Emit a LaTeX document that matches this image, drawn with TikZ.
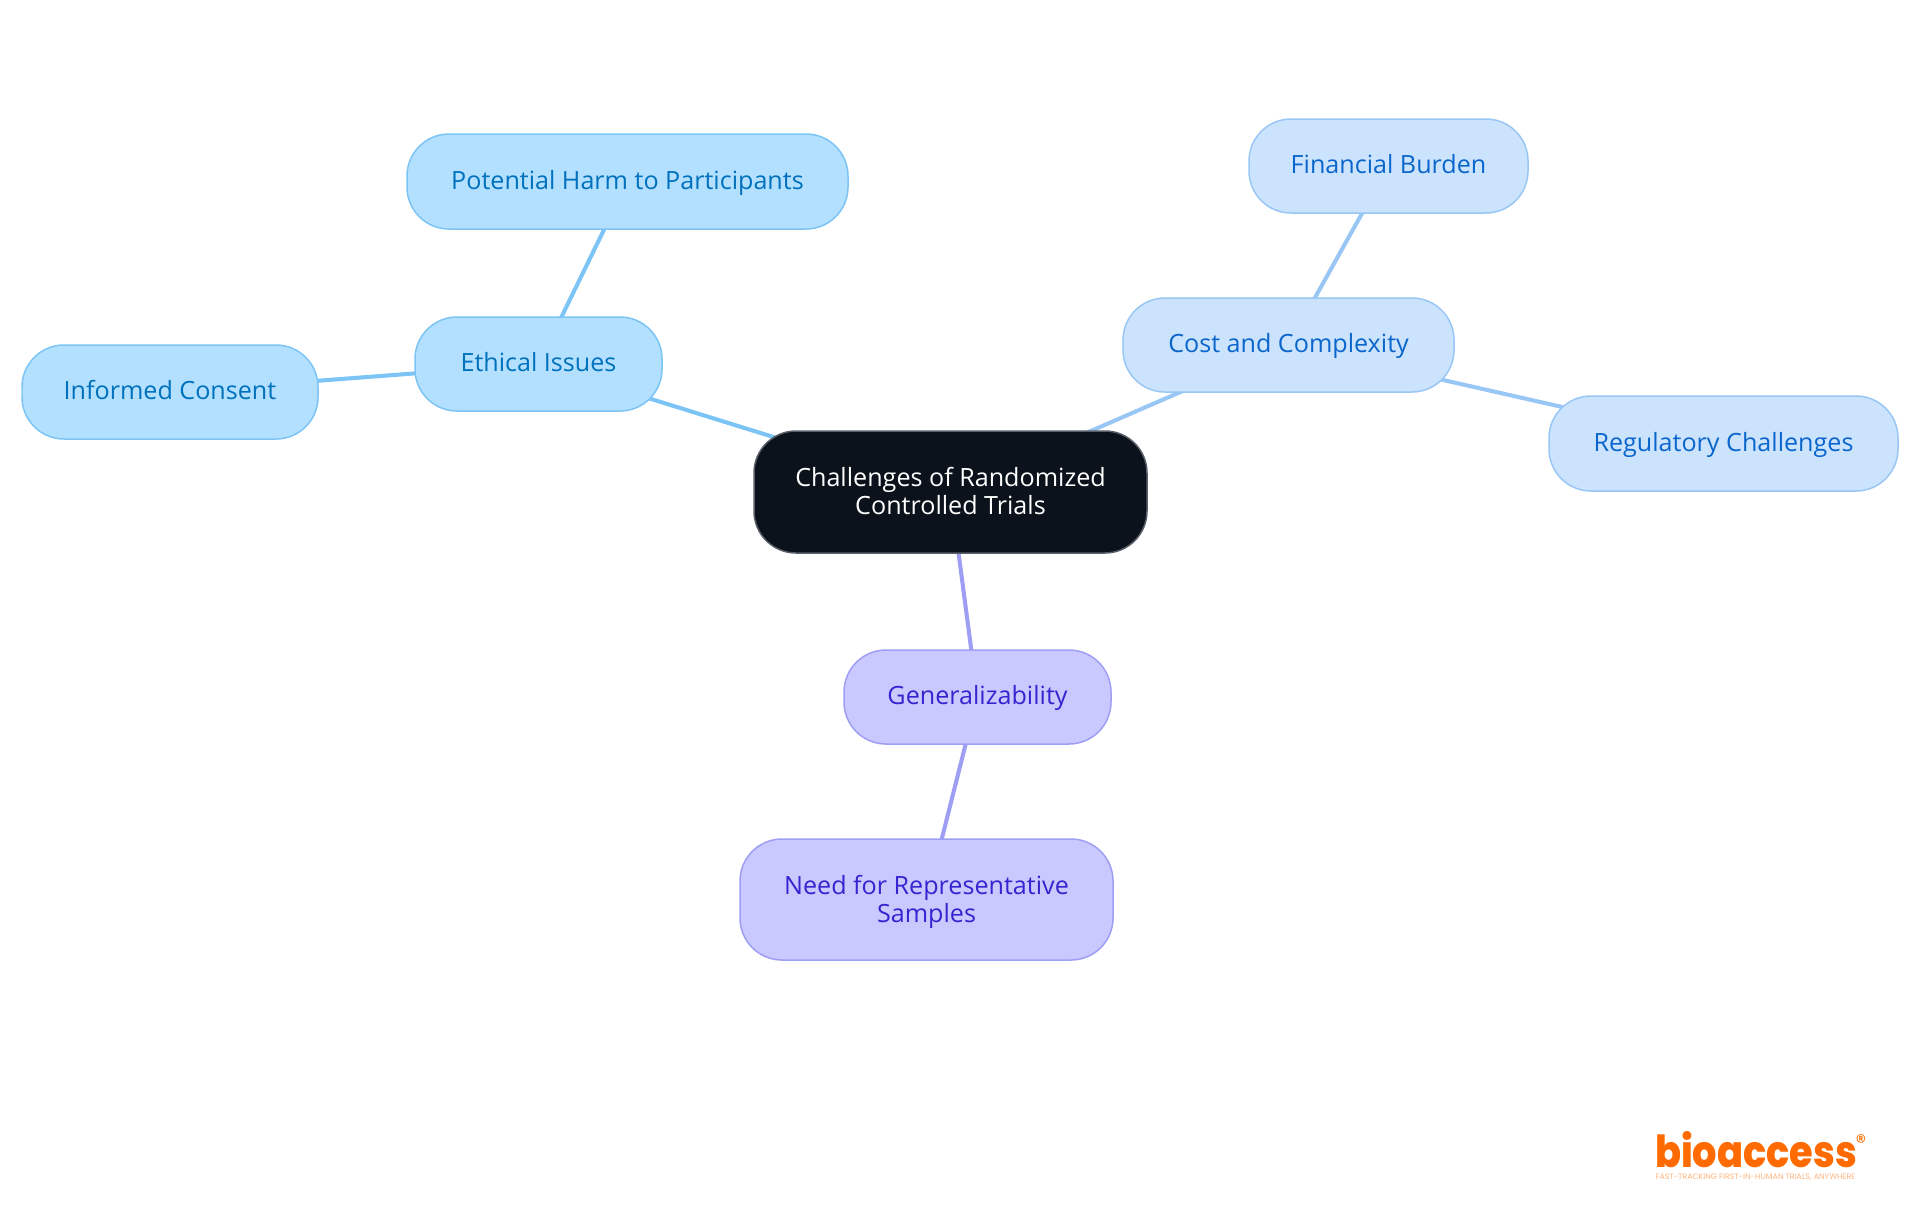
\documentclass[tikz,border=0pt]{standalone}
\usepackage{fontspec}
\setmainfont{Open Sans}
\newfontfamily\logofont[BoldFont={Poppins ExtraBold}]{Poppins}
\usetikzlibrary{backgrounds}

\definecolor{rootfill}{HTML}{0B121B}
\definecolor{rootline}{HTML}{5A6068}
\definecolor{ethicfill}{HTML}{B3E0FF}
\definecolor{ethicline}{HTML}{7CC4F5}
\definecolor{ethictext}{HTML}{0071BC}
\definecolor{costfill}{HTML}{CCE3FD}
\definecolor{costline}{HTML}{99C7F5}
\definecolor{costtext}{HTML}{0A66CC}
\definecolor{genfill}{HTML}{C9C9FF}
\definecolor{genline}{HTML}{9E9EF5}
\definecolor{gentext}{HTML}{3524D0}
\definecolor{logoorange}{HTML}{FF6B00}

\newcommand{\topicstrut}{\rule[-4pt]{0pt}{16.8pt}}
\newcommand{\twolinestrut}{\rule[-4pt]{0pt}{33.8pt}}

\tikzset{
  topic/.style={rounded corners=0.84cm, line width=0.85pt, align=center, inner sep=0pt,
    font=\fontsize{14.3}{16}\selectfont,
    execute at begin node=\topicstrut, execute at end node=\topicstrut},
  twoline/.style={execute at begin node=\twolinestrut},
  root/.style={topic, twoline, fill=rootfill, draw=rootline, text=white},
  ethic/.style={topic, fill=ethicfill, draw=ethicline, text=ethictext},
  cost/.style={topic, fill=costfill, draw=costline, text=costtext},
  gen/.style={topic, fill=genfill, draw=genline, text=gentext},
  link/.style={line width=2.3pt},
}

\begin{document}
\begin{tikzpicture}[x=0.02cm, y=-0.02cm]
    \useasboundingbox (0,0) rectangle (1920,1215);

    % Centre
    \node[root, minimum width=393*0.02cm, minimum height=122*0.02cm] (challenges) at (950.5,492) {Challenges of Randomized\\Controlled Trials};

    % Ethics branch
    \node[ethic, minimum width=247*0.02cm, minimum height=94*0.02cm] (ethical) at (538.5,364) {Ethical Issues};
    \node[ethic, minimum width=441*0.02cm, minimum height=95*0.02cm] (harm) at (627.5,181.5) {Potential Harm to Participants};
    \node[ethic, minimum width=296*0.02cm, minimum height=94*0.02cm] (consent) at (170,392) {Informed Consent};

    % Cost branch
    \node[cost, minimum width=331*0.02cm, minimum height=94*0.02cm] (complexity) at (1288.5,345) {Cost and Complexity};
    \node[cost, minimum width=279*0.02cm, minimum height=94*0.02cm] (burden) at (1388.5,166) {Financial Burden};
    \node[cost, minimum width=349*0.02cm, minimum height=95*0.02cm] (regulatory) at (1723.5,443.5) {Regulatory Challenges};

    % Generalizability branch
    \node[gen, minimum width=267*0.02cm, minimum height=94*0.02cm] (general) at (977.5,697) {Generalizability};
    \node[gen, twoline, minimum width=373*0.02cm, minimum height=121*0.02cm] (samples) at (926.5,899.5) {Need for Representative\\Samples};

    % Links
    \begin{scope}[on background layer]
        \draw[link, ethicline] (challenges.center) -- (ethical.center);
        \draw[link, ethicline] (ethical.center) -- (harm.center);
        \draw[link, ethicline] (ethical.center) -- (consent.center);
        \draw[link, costline] (challenges.center) -- (complexity.center);
        \draw[link, costline] (complexity.center) -- (burden.center);
        \draw[link, costline] (complexity.center) -- (regulatory.center);
        \draw[link, genline] (challenges.center) -- (general.center);
        \draw[link, genline] (general.center) -- (samples.center);
    \end{scope}

    % Logo
    \node[text=logoorange, inner sep=0pt, font=\logofont\bfseries] (logo) at (1756,1150) {\resizebox{4.04cm}{0.72cm}{bioaccess}};
    \node[text=logoorange, inner sep=0pt, font=\logofont\fontsize{12}{12}\selectfont] (mark) at (1861,1142) {®};
    \node[text=logoorange!50, inner sep=0pt, font=\logofont\fontsize{4.5}{5}\selectfont] (tagline) at (1755.5,1177) {FAST-TRACKING FIRST-IN-HUMAN TRIALS, ANYWHERE};
\end{tikzpicture}
\end{document}
